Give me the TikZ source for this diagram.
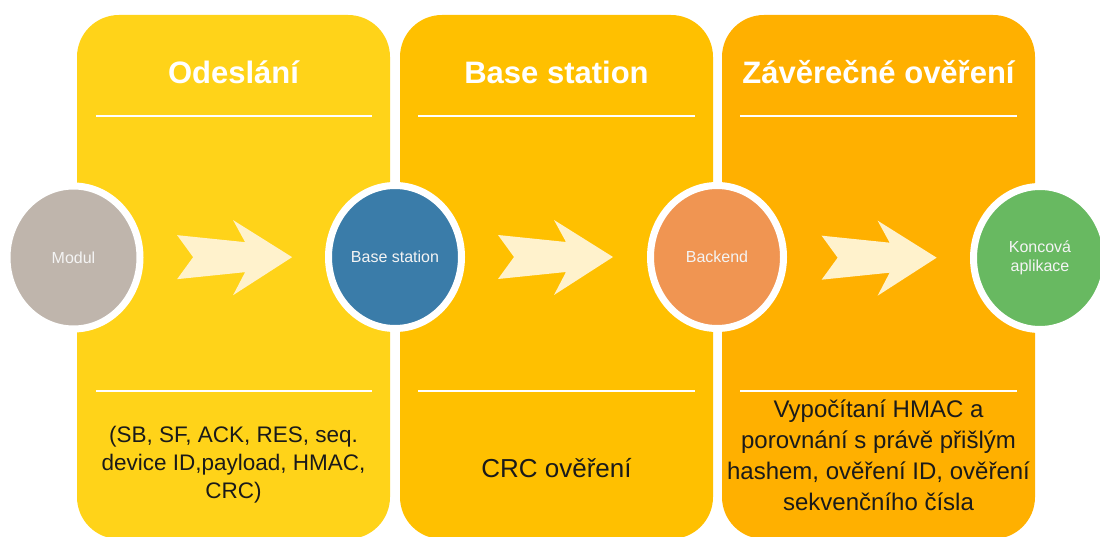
\documentclass[tikz,border=0pt]{standalone}
\usepackage{fontspec}
\setmainfont{Liberation Sans}
\usetikzlibrary{shapes.geometric,calc}
\definecolor{pA}{HTML}{FFD319}
\definecolor{pB}{HTML}{FFC000}
\definecolor{pC}{HTML}{FFB000}
\definecolor{cream}{HTML}{FFF2CC}
\definecolor{cgray}{HTML}{BFB5AC}
\definecolor{cblue}{HTML}{3A7CA9}
\definecolor{corange}{HTML}{F09552}
\definecolor{cgreen}{HTML}{68B961}
\definecolor{ink}{HTML}{1A1A1A}
\definecolor{ctext}{HTML}{F4F4F4}
\begin{document}
\begin{tikzpicture}[x=1pt,y=-1pt,
  panel/.style={rounded corners=42pt, minimum width=313pt, minimum height=524pt, inner sep=0pt, draw=none},
  title/.style={text=white, font=\fontsize{31}{36}\selectfont\bfseries, anchor=base, inner sep=0pt},
  rule/.style={draw=white, line width=2pt},
  stage/.style={ellipse, draw=white, line width=7pt, minimum width=133pt, minimum height=143pt, inner sep=0pt, text=ctext, font=\fontsize{16}{19}\selectfont, align=center},
  body/.style={text=ink, anchor=base, inner sep=0pt},
  chev/.pic={\fill[cream] (-115,-22) -- (-47,-15) -- (-59,-37) -- (0,0) -- (-59,38) -- (-47,15) -- (-115,22) -- (-99,0) -- cycle;}
]
\useasboundingbox[fill=white] (0,0) rectangle (1100,537);
% panels
\node[panel, fill=pA] (pan1) at (233.5,277) {};
\node[panel, fill=pB] (pan2) at (556.5,277) {};
\node[panel, fill=pC] (pan3) at (878.5,277) {};
% titles
\node[title] (t1) at (233.5,84) {Odeslání};
\node[title] (t2) at (556.5,84) {Base station};
\node[title] (t3) at (878.5,84) {Závěrečné ověření};
% rules
\draw[rule] (96,116) -- (372,116);
\draw[rule] (418,116) -- (695,116);
\draw[rule] (740,116) -- (1017,116);
\draw[rule] (96,391) -- (372,391);
\draw[rule] (418,391) -- (695,391);
\draw[rule] (740,391) -- (1017,391);
% stages
\node[stage, fill=cgray] (modul) at (73.5,257.5) {Modul};
\node[stage, fill=cblue] (bs) at (395,257) {Base station};
\node[stage, fill=corange] (be) at (717,257) {Backend};
\node[stage, fill=cgreen] (app) at (1040,258) {Koncová\\aplikace};
% arrows
\pic at ($(modul)!0.68!(bs)$) {chev};
\pic at ($(bs)!0.677!(be)$) {chev};
\pic at ($(be)!0.68!(app)$) {chev};
% body texts
\begin{scope}[every node/.append style={font=\fontsize{22.5}{28}\selectfont}]
\node[body] (b1a) at (233.5,442) {(SB, SF, ACK, RES, seq.};
\node[body] (b1b) at (233.5,470) {device ID,payload, HMAC,};
\node[body] (b1c) at (233.5,498) {CRC)};
\end{scope}
\node[body, font=\fontsize{26}{30}\selectfont] (b2) at (556.5,477) {CRC ověření};
\begin{scope}[every node/.append style={font=\fontsize{24}{30}\selectfont}]
\node[body] (b3a) at (878.5,417) {Vypočítaní HMAC a};
\node[body] (b3b) at (878.5,448) {porovnání s právě přišlým};
\node[body] (b3c) at (878.5,479) {hashem, ověření ID, ověření};
\node[body] (b3d) at (878.5,510) {sekvenčního čísla};
\end{scope}
\end{tikzpicture}
\end{document}
